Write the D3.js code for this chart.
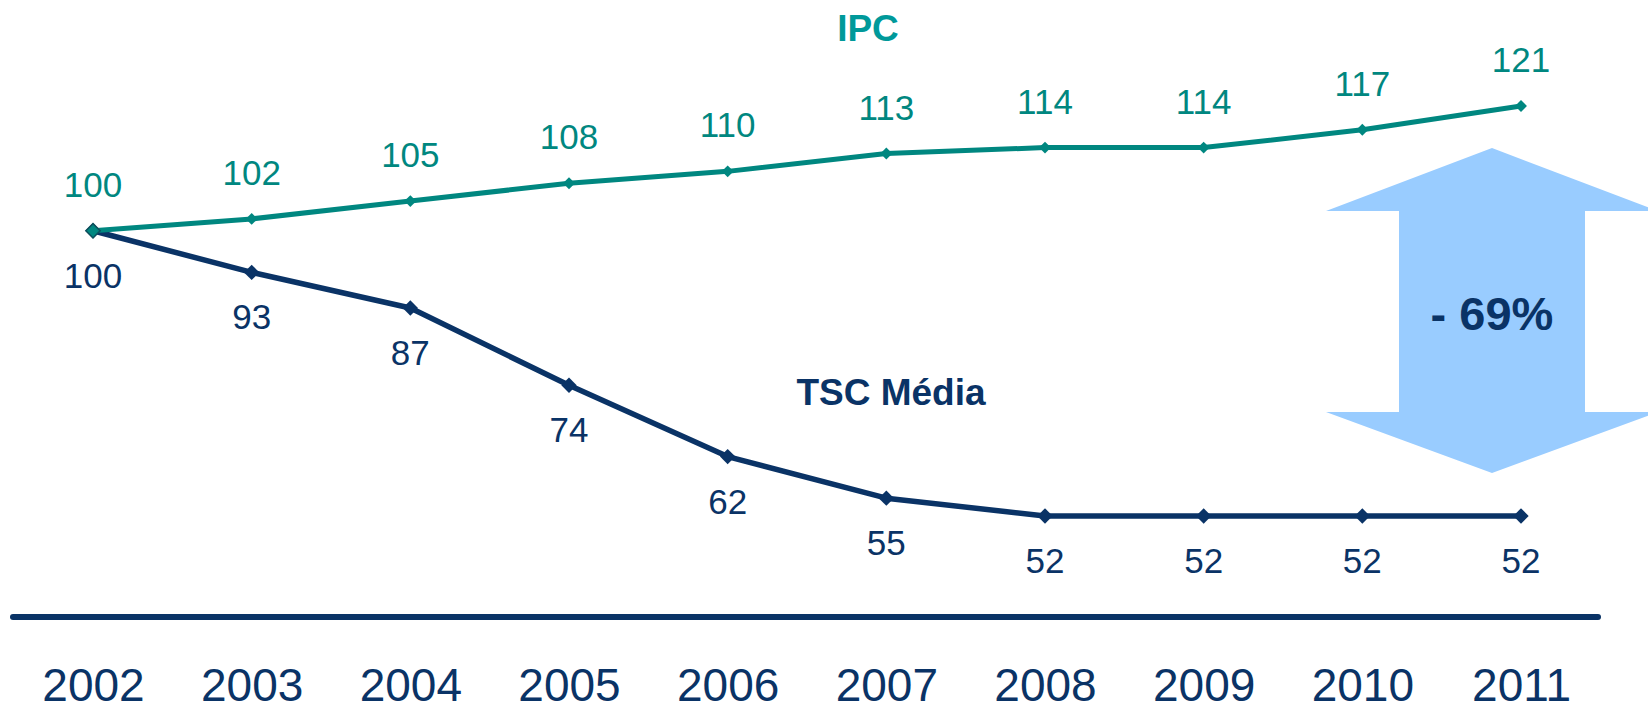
<!DOCTYPE html>
<html>
<head>
<meta charset="utf-8">
<script src="https://cdn.jsdelivr.net/npm/d3@7"></script>
<style>
  html, body { margin: 0; padding: 0; background: #fff; }
  svg { display: block; font-family: Arial, "Liberation Sans", sans-serif; }
</style>
</head>
<body>
<script>
// data
var years = [2002, 2003, 2004, 2005, 2006, 2007, 2008, 2009, 2010, 2011];
var ipc = [100, 102, 105, 108, 110, 113, 114, 114, 117, 121];
var tsc = [100, 93, 87, 74, 62, 55, 52, 52, 52, 52];
var seriesNames = ["IPC", "TSC Média"];
var changeLabel = "- 69%";

var svgWidth = 1648, svgHeight = 706;
var teal = "#008780", navy = "#0a3366", arrowBlue = "#99ccff";

var svg = d3.select("body").append("svg")
  .attr("width", svgWidth)
  .attr("height", svgHeight);

// scales
var xScale = d3.scalePoint()
  .domain(years)
  .range([93, 1521]);

var yScale = d3.scaleLinear()
  .domain([52, 121])
  .range([516, 106]);

// arrow (behind everything)
var ax = 1492, half = 166, shaftHalf = 93;
var arrowPts = [
  [ax, 148], [ax + half, 211], [ax + shaftHalf, 211], [ax + shaftHalf, 412],
  [ax + half, 412], [ax, 473], [ax - half, 412], [ax - shaftHalf, 412],
  [ax - shaftHalf, 211], [ax - half, 211]
];
svg.append("polygon")
  .attr("points", arrowPts.map(function(p){ return p.join(","); }).join(" "))
  .attr("fill", arrowBlue);

svg.append("text")
  .attr("x", ax)
  .attr("y", 330)
  .attr("text-anchor", "middle")
  .attr("font-size", "47px")
  .attr("font-weight", "bold")
  .attr("fill", navy)
  .text(changeLabel);

// bottom axis line
svg.append("line")
  .attr("x1", 13).attr("x2", 1598)
  .attr("y1", 617).attr("y2", 617)
  .attr("stroke", navy)
  .attr("stroke-width", 6)
  .attr("stroke-linecap", "round");

// year labels through axis
var xAxis = d3.axisBottom(xScale).tickSize(0);
var axisG = svg.append("g")
  .attr("transform", "translate(0,617)")
  .call(xAxis);
axisG.select(".domain").remove();
axisG.selectAll("text")
  .attr("y", 84)
  .attr("dy", 0)
  .attr("font-size", "46px")
  .attr("font-family", "Arial, 'Liberation Sans', sans-serif")
  .attr("fill", navy);

var line = d3.line()
  .x(function(d, i){ return xScale(years[i]); })
  .y(function(d){ return yScale(d); });

function drawSeries(values, color, width, markSize, labelDy) {
  var g = svg.append("g");
  g.append("path")
    .datum(values)
    .attr("d", line)
    .attr("fill", "none")
    .attr("stroke", color)
    .attr("stroke-width", width)
    .attr("stroke-linejoin", "round");
  g.selectAll(".mk")
    .data(values)
    .enter().append("path")
    .attr("class", "mk")
    .attr("d", d3.symbol().type(d3.symbolDiamond2).size(markSize))
    .attr("transform", function(d, i){
      return "translate(" + xScale(years[i]) + "," + yScale(d) + ")";
    })
    .attr("fill", color);
  g.selectAll(".lbl")
    .data(values)
    .enter().append("text")
    .attr("class", "lbl")
    .attr("x", function(d, i){ return xScale(years[i]); })
    .attr("y", function(d){ return yScale(d) + labelDy; })
    .attr("text-anchor", "middle")
    .attr("font-size", "35px")
    .attr("fill", color)
    .text(function(d){ return d; });
  return g;
}

drawSeries(tsc, navy, 5.5, 150, 57);
var ipcG = drawSeries(ipc, teal, 5, 90, -34);
ipcG.select(".mk")
  .attr("d", d3.symbol().type(d3.symbolDiamond2).size(130))
  .attr("stroke", "#0d4f5c")
  .attr("stroke-width", 1.5);

// series titles
svg.append("text")
  .attr("x", 868).attr("y", 41)
  .attr("text-anchor", "middle")
  .attr("font-size", "37px")
  .attr("font-weight", "bold")
  .attr("fill", "#00999a")
  .text(seriesNames[0]);

svg.append("text")
  .attr("x", 891).attr("y", 405)
  .attr("text-anchor", "middle")
  .attr("font-size", "37px")
  .attr("font-weight", "bold")
  .attr("fill", navy)
  .text(seriesNames[1]);
</script>
</body>
</html>
